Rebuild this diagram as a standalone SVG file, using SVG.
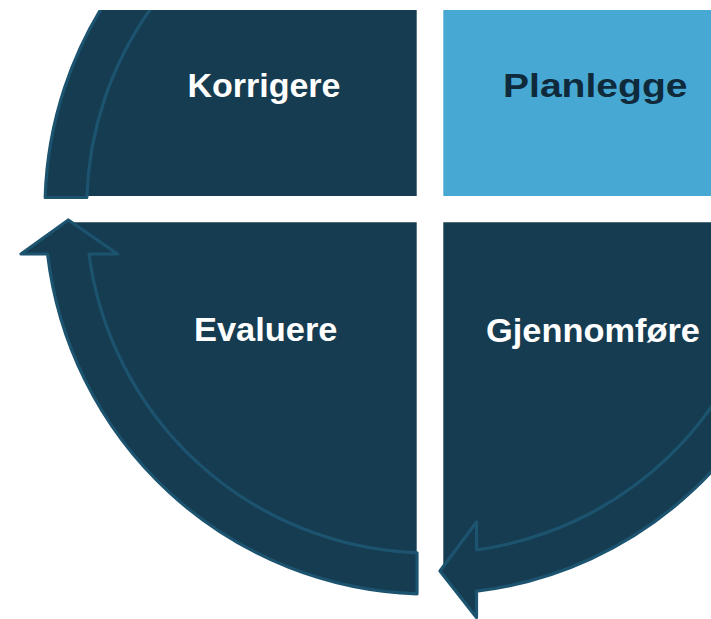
<svg xmlns="http://www.w3.org/2000/svg" width="711" height="619" viewBox="0 0 711 619">
  <defs>
    <clipPath id="page">
      <rect x="0" y="10" width="711" height="609"/>
    </clipPath>
    <style>
      .quad { fill: #163c51; }
      .quad-light { fill: #48a8d4; }
      .band { fill: #163c51; stroke: #1c536f; stroke-width: 3.2; stroke-linejoin: round; }
      .lbl { font-family: "Liberation Sans", Arial, sans-serif; font-weight: bold; font-size: 33px; fill: #ffffff; }
      .lbl-dark { fill: #0f2a3a; font-size: 34px; }
    </style>
  </defs>
  <rect x="0" y="0" width="711" height="619" fill="#ffffff"/>
  <g clip-path="url(#page)">
    <g id="node-korrigere">
      <path class="quad" d="M416.7,196 L66.2,196 A364,364 0 0 1 416.7,-154.8 Z"/>
      <text class="lbl" x="187.5" y="97" textLength="153" lengthAdjust="spacingAndGlyphs">Korrigere</text>
    </g>
    <g id="node-planlegge">
      <path class="quad-light" d="M443.3,196 L443.3,-154.8 A364,364 0 0 1 793.8,196 Z"/>
      <text class="lbl lbl-dark" x="503" y="97" textLength="184.5" lengthAdjust="spacingAndGlyphs">Planlegge</text>
    </g>
    <g id="node-gjennomfore">
      <path class="quad" d="M443.3,222.3 L793.8,222.3 A364,364 0 0 1 443.3,572.8 Z"/>
      <text class="lbl" x="486" y="341.5" textLength="214" lengthAdjust="spacingAndGlyphs">Gjennomføre</text>
    </g>
    <g id="node-evaluere">
      <path class="quad" d="M416.7,222.3 L416.7,572.8 A364,364 0 0 1 66.2,222.3 Z"/>
      <text class="lbl" x="194" y="341.3" textLength="143.5" lengthAdjust="spacingAndGlyphs">Evaluere</text>
    </g>
    <g id="connectors">
      <path id="arrow-gjennomfore-evaluere" class="band" d="M768.8,268.7 L809.1,275.9 A385,385 0 0 1 476.5,591.2 L476.5,617.5 L440,571 L476.5,522 L476.5,549.8 A344,344 0 0 0 768.8,268.7 Z"/>
      <path id="arrow-evaluere-korrigere" class="band" d="M417,593.8 A385,385 0 0 1 47.6,254 L21,254 L68.3,220 L117.5,254 L89,254 A344,344 0 0 0 417,552.8 Z"/>
      <path id="arrow-korrigere-planlegge" class="band" d="M45.2,197.5 A385,385 0 0 1 298.3,-152.8 L312.3,-114.3 A344,344 0 0 0 86.8,197.5 Z"/>
    </g>
  </g>
</svg>
